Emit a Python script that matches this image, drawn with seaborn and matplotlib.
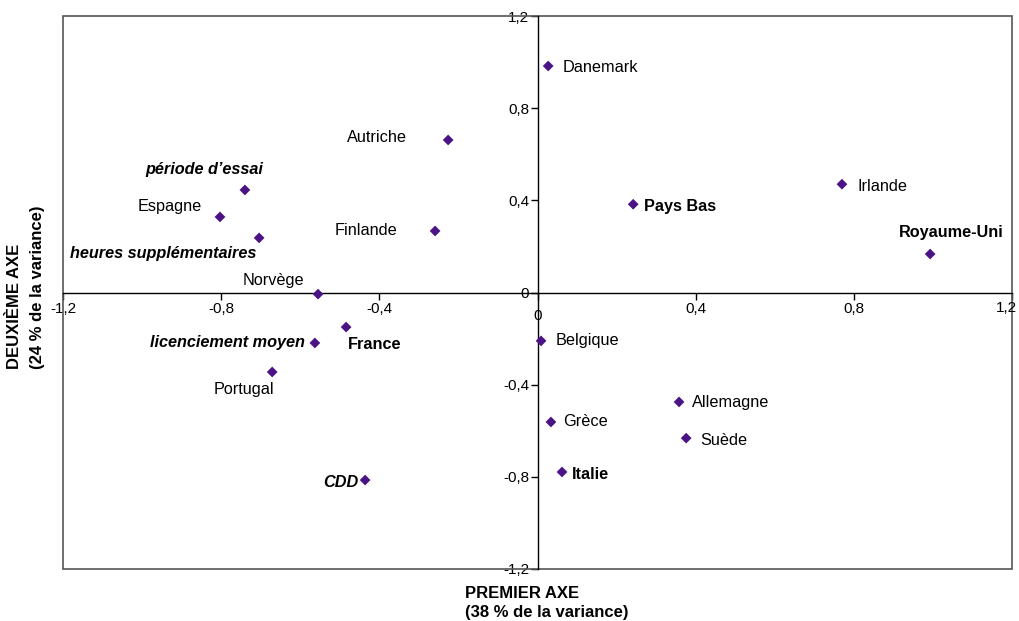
import matplotlib
matplotlib.use("Agg")
import matplotlib.pyplot as plt
import seaborn as sns
import pandas as pd
from matplotlib.patches import Rectangle

sns.set_theme(style="white")
plt.rcParams['font.family'] = ['Liberation Sans', 'DejaVu Sans']

labels = ["Danemark", "Autriche", "période d’essai", "Espagne", "heures supplémentaires",
          "Finlande", "Norvège", "Pays Bas", "Irlande", "Royaume-Uni", "France",
          "licenciement moyen", "Portugal", "Belgique", "Allemagne", "Grèce", "Suède",
          "Italie", "CDD"]
axe1 = [0.027, -0.226, -0.740, -0.803, -0.704, -0.259, -0.555, 0.242, 0.770, 0.993,
        -0.484, -0.563, -0.671, 0.009, 0.358, 0.034, 0.376, 0.062, -0.436]
axe2 = [0.983, 0.662, 0.445, 0.328, 0.237, 0.267, -0.007, 0.383, 0.470, 0.167,
        -0.150, -0.219, -0.345, -0.210, -0.475, -0.562, -0.632, -0.779, -0.814]
styles = ["n", "n", "bi", "n", "bi", "n", "n", "b", "n", "b", "b", "bi", "n", "n", "n",
          "n", "n", "b", "bi"]
ticks = [-1.2, -0.8, -0.4, 0, 0.4, 0.8, 1.2]
tick_labels = ["-1,2", "-0,8", "-0,4", "0", "0,4", "0,8", "1,2"]

# label offsets in pixels (dx, dy, ha)
offsets = {
    "Danemark": (14, -1, "left"),
    "Autriche": (-41, 2, "right"),
    "période d’essai": (-41, 20, "center"),
    "Espagne": (-18, 10, "right"),
    "heures supplémentaires": (-96, -16, "center"),
    "Finlande": (-38, 0, "right"),
    "Norvège": (-45, 14, "center"),
    "Pays Bas": (11, -2, "left"),
    "Irlande": (16, -2, "left"),
    "Royaume-Uni": (21, 22, "center"),
    "France": (2, -17, "left"),
    "licenciement moyen": (-10, 0, "right"),
    "Portugal": (-28, -18, "center"),
    "Belgique": (15, 0, "left"),
    "Allemagne": (13, -1, "left"),
    "Grèce": (12, 0, "left"),
    "Suède": (14, -2, "left"),
    "Italie": (10, -3, "left"),
    "CDD": (-7, -2, "right"),
}

df = pd.DataFrame({"label": labels, "x": axe1, "y": axe2, "style": styles})

fig = plt.figure(figsize=(10.19, 6.21), dpi=100)
ax = fig.add_axes([63/1019, 1-569/621, (1012-63)/1019, (569-16)/621])

sns.scatterplot(data=df, x="x", y="y", marker="D", s=30, color="#4a1486",
                edgecolor="none", ax=ax, zorder=5)

ax.set_xlim(-1.2, 1.2)
ax.set_ylim(-1.2, 1.2)
ax.set_xticks(ticks)
ax.set_yticks(ticks)
xt = list(tick_labels)
yt = list(tick_labels)
xt[3] = ""
xt[-1] = ""
ax.set_xticklabels(xt, fontsize=11)
ax.set_yticklabels(yt, fontsize=11)
ax.annotate(tick_labels[3], (ticks[3], 0), xytext=(0, -17), textcoords="offset pixels",
            ha="center", va="top", fontsize=11, color="black", annotation_clip=False)
ax.annotate(tick_labels[-1], (ticks[-1], 0), xytext=(-6, -8), textcoords="offset pixels",
            ha="center", va="top", fontsize=11, color="black", annotation_clip=False)

for side in ["top", "right"]:
    ax.spines[side].set_visible(False)
ax.spines["left"].set_position(("data", 0))
ax.spines["bottom"].set_position(("data", 0))
for side in ["left", "bottom"]:
    ax.spines[side].set_color("black")
    ax.spines[side].set_linewidth(1.0)
ax.tick_params(axis="both", direction="out", length=5, width=1, color="black",
               labelcolor="black", pad=1)
ax.tick_params(axis="x", pad=2)
ax.xaxis.set_ticks_position("bottom")
ax.yaxis.set_ticks_position("left")

frame = Rectangle((0, 0), 1, 1, transform=ax.transAxes, fill=False,
                  edgecolor="#555555", linewidth=1.2, clip_on=False, zorder=1)
ax.add_patch(frame)

for lab, x, y, st in zip(labels, axe1, axe2, styles):
    dx, dy, ha = offsets[lab]
    weight = "bold" if "b" in st else "normal"
    fstyle = "italic" if "i" in st else "normal"
    ax.annotate(lab, (x, y), xytext=(dx, dy), textcoords="offset pixels",
                ha=ha, va="center", fontsize=11.7, fontweight=weight,
                fontstyle=fstyle, color="black", zorder=6)

ax.set_xlabel("")
ax.set_ylabel("")
fig.text(465/1019, 1-593/621, "PREMIER AXE", ha="left", va="center",
         fontsize=12, fontweight="bold", color="black")
fig.text(465/1019, 1-613/621, "(38 % de la variance)", ha="left", va="center",
         fontsize=12, fontweight="bold", color="black")
fig.text(15/1019, 1-369/621, "DEUXIÈME AXE", ha="center", va="bottom",
         rotation=90, fontsize=12, fontweight="bold", color="black")
fig.text(38/1019, 1-369/621, "(24 % de la variance)", ha="center", va="bottom",
         rotation=90, fontsize=12, fontweight="bold", color="black")

fig.savefig("out.png", dpi=100)
